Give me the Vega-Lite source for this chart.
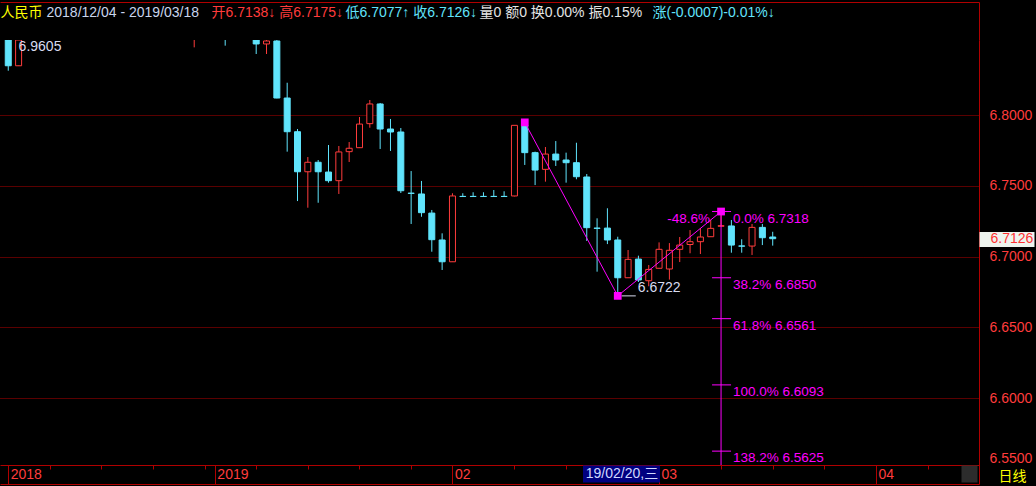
{
  "$schema": "https://vega.github.io/schema/vega-lite/v6.json",
  "width": 979,
  "height": 425,
  "autosize": {"type": "none"},
  "padding": {"left": 0, "top": 40, "right": 57, "bottom": 21},
  "background": "#000000",
  "config": {
    "view": {"stroke": null},
    "font": "Liberation Sans, Noto Sans CJK SC",
    "axis": {"labelFont": "Liberation Sans, Noto Sans CJK SC", "titleFont": "Liberation Sans, Noto Sans CJK SC", "titleFontWeight": "normal", "labelFlush": false, "grid": false}
  },
  "datasets": {
    "k": [
      {"d": "2018-12-04", "i": 0, "o": 6.8600, "h": 6.8650, "l": 6.8313, "c": 6.8348},
      {"d": "2018-12-05", "i": 1, "o": 6.8348, "h": 6.9605, "l": 6.8348, "c": 6.8620},
      {"d": "2018-12-28", "i": 18, "o": 6.8560, "h": 6.8650, "l": 6.8478, "c": 6.8600},
      {"d": "2019-01-02", "i": 21, "o": 6.8650, "h": 6.8700, "l": 6.8490, "c": 6.8560},
      {"d": "2019-01-07", "i": 24, "o": 6.8580, "h": 6.8620, "l": 6.8431, "c": 6.8502},
      {"d": "2019-01-08", "i": 25, "o": 6.8502, "h": 6.8560, "l": 6.8431, "c": 6.8523},
      {"d": "2019-01-09", "i": 26, "o": 6.8523, "h": 6.8550, "l": 6.8118, "c": 6.8120},
      {"d": "2019-01-10", "i": 27, "o": 6.8120, "h": 6.8228, "l": 6.7741, "c": 6.7882},
      {"d": "2019-01-11", "i": 28, "o": 6.7882, "h": 6.7901, "l": 6.7392, "c": 6.7599},
      {"d": "2019-01-14", "i": 29, "o": 6.7599, "h": 6.7703, "l": 6.7345, "c": 6.7666},
      {"d": "2019-01-15", "i": 30, "o": 6.7666, "h": 6.7682, "l": 6.7380, "c": 6.7599},
      {"d": "2019-01-16", "i": 31, "o": 6.7597, "h": 6.7788, "l": 6.7522, "c": 6.7536},
      {"d": "2019-01-17", "i": 32, "o": 6.7536, "h": 6.7781, "l": 6.7442, "c": 6.7739},
      {"d": "2019-01-18", "i": 33, "o": 6.7741, "h": 6.7809, "l": 6.7668, "c": 6.7765},
      {"d": "2019-01-21", "i": 34, "o": 6.7769, "h": 6.7986, "l": 6.7769, "c": 6.7936},
      {"d": "2019-01-22", "i": 35, "o": 6.7939, "h": 6.8106, "l": 6.7910, "c": 6.8078},
      {"d": "2019-01-23", "i": 36, "o": 6.8078, "h": 6.8085, "l": 6.7760, "c": 6.7901},
      {"d": "2019-01-24", "i": 37, "o": 6.7901, "h": 6.7972, "l": 6.7746, "c": 6.7880},
      {"d": "2019-01-25", "i": 38, "o": 6.7880, "h": 6.7908, "l": 6.7449, "c": 6.7465},
      {"d": "2019-01-28", "i": 39, "o": 6.7448, "h": 6.7604, "l": 6.7230, "c": 6.7446},
      {"d": "2019-01-29", "i": 40, "o": 6.7442, "h": 6.7534, "l": 6.7281, "c": 6.7310},
      {"d": "2019-01-30", "i": 41, "o": 6.7307, "h": 6.7329, "l": 6.7034, "c": 6.7119},
      {"d": "2019-01-31", "i": 42, "o": 6.7117, "h": 6.7164, "l": 6.6905, "c": 6.6963},
      {"d": "2019-02-01", "i": 43, "o": 6.6963, "h": 6.7447, "l": 6.6963, "c": 6.7428},
      {"d": "2019-02-04", "i": 44, "o": 6.7425, "h": 6.7447, "l": 6.7424, "c": 6.7424},
      {"d": "2019-02-05", "i": 45, "o": 6.7425, "h": 6.7454, "l": 6.7424, "c": 6.7424},
      {"d": "2019-02-06", "i": 46, "o": 6.7425, "h": 6.7454, "l": 6.7424, "c": 6.7424},
      {"d": "2019-02-07", "i": 47, "o": 6.7425, "h": 6.7470, "l": 6.7424, "c": 6.7424},
      {"d": "2019-02-08", "i": 48, "o": 6.7425, "h": 6.7461, "l": 6.7424, "c": 6.7424},
      {"d": "2019-02-11", "i": 49, "o": 6.7428, "h": 6.7927, "l": 6.7425, "c": 6.7927},
      {"d": "2019-02-12", "i": 50, "o": 6.7927, "h": 6.7948, "l": 6.7647, "c": 6.7734},
      {"d": "2019-02-13", "i": 51, "o": 6.7734, "h": 6.7741, "l": 6.7505, "c": 6.7611},
      {"d": "2019-02-14", "i": 52, "o": 6.7616, "h": 6.7774, "l": 6.7529, "c": 6.7724},
      {"d": "2019-02-15", "i": 53, "o": 6.7724, "h": 6.7816, "l": 6.7640, "c": 6.7682},
      {"d": "2019-02-18", "i": 54, "o": 6.7682, "h": 6.7734, "l": 6.7522, "c": 6.7663},
      {"d": "2019-02-19", "i": 55, "o": 6.7663, "h": 6.7804, "l": 6.7546, "c": 6.7564},
      {"d": "2019-02-20", "i": 56, "o": 6.7562, "h": 6.7583, "l": 6.7110, "c": 6.7204},
      {"d": "2019-02-21", "i": 57, "o": 6.7201, "h": 6.7270, "l": 6.6893, "c": 6.7199},
      {"d": "2019-02-22", "i": 58, "o": 6.7201, "h": 6.7341, "l": 6.7088, "c": 6.7117},
      {"d": "2019-02-25", "i": 59, "o": 6.7117, "h": 6.7140, "l": 6.6722, "c": 6.6850},
      {"d": "2019-02-26", "i": 60, "o": 6.6850, "h": 6.7046, "l": 6.6850, "c": 6.6980},
      {"d": "2019-02-27", "i": 61, "o": 6.6982, "h": 6.7006, "l": 6.6820, "c": 6.6834},
      {"d": "2019-02-28", "i": 62, "o": 6.6829, "h": 6.6940, "l": 6.6790, "c": 6.6909},
      {"d": "2019-03-01", "i": 63, "o": 6.6917, "h": 6.7100, "l": 6.6917, "c": 6.7051},
      {"d": "2019-03-04", "i": 64, "o": 6.6912, "h": 6.7095, "l": 6.6837, "c": 6.7044},
      {"d": "2019-03-05", "i": 65, "o": 6.7051, "h": 6.7138, "l": 6.6961, "c": 6.7081},
      {"d": "2019-03-06", "i": 66, "o": 6.7085, "h": 6.7187, "l": 6.7023, "c": 6.7105},
      {"d": "2019-03-07", "i": 67, "o": 6.7105, "h": 6.7201, "l": 6.7018, "c": 6.7138},
      {"d": "2019-03-08", "i": 68, "o": 6.7140, "h": 6.7258, "l": 6.7140, "c": 6.7199},
      {"d": "2019-03-11", "i": 69, "o": 6.7214, "h": 6.7318, "l": 6.7214, "c": 6.7218},
      {"d": "2019-03-12", "i": 70, "o": 6.7216, "h": 6.7258, "l": 6.7027, "c": 6.7081},
      {"d": "2019-03-13", "i": 71, "o": 6.7075, "h": 6.7122, "l": 6.7027, "c": 6.7073},
      {"d": "2019-03-14", "i": 72, "o": 6.7074, "h": 6.7230, "l": 6.7011, "c": 6.7206},
      {"d": "2019-03-15", "i": 73, "o": 6.7206, "h": 6.7230, "l": 6.7081, "c": 6.7133},
      {"d": "2019-03-18", "i": 74, "o": 6.7138, "h": 6.7175, "l": 6.7077, "c": 6.7126}
    ],
    "fib": [
      {"lab": "0.0% 6.7318", "p": 6.7318, "i": 69},
      {"lab": "38.2% 6.6850", "p": 6.6850, "i": 69},
      {"lab": "61.8% 6.6561", "p": 6.6561, "i": 69},
      {"lab": "100.0% 6.6093", "p": 6.6093, "i": 69},
      {"lab": "138.2% 6.5625", "p": 6.5625, "i": 69}
    ],
    "fibpts": [
      {"n": 1, "i": 50, "p": 6.7948, "r": ""},
      {"n": 2, "i": 59, "p": 6.6722, "r": ""},
      {"n": 3, "i": 69, "p": 6.7318, "r": "-48.6%"}
    ]
  },
  "layer": [
    {
      "data": {"name": "k"},
      "mark": {"type": "rule", "strokeWidth": 1},
      "encoding": {
        "x": {"field": "i", "type": "quantitative", "scale": {"domain": [-0.8, 93.97], "nice": false, "zero": false, "padding": 0},
          "axis": {"orient": "bottom", "values": [4, 9, 14, 19, 24, 29, 34, 39, 49, 54, 59, 69, 74, 79, 89], "labels": false, "ticks": true, "tickSize": 4, "tickColor": "#b00000", "domain": true, "domainColor": "#b00000", "grid": false,
            "title": "日线", "titleColor": "#ffff00", "titleFontSize": 14, "titleX": 1012, "titleY": 11, "titleAlign": "center", "titleBaseline": "middle", "titleAngle": 0}},
        "y": {"field": "l", "type": "quantitative", "scale": {"domain": [6.5527, 6.853], "nice": false, "zero": false, "clamp": true, "padding": 0},
          "axis": {"orient": "right", "values": [6.55, 6.6, 6.65, 6.7, 6.75, 6.8], "format": ".4f", "labelColor": "#ff3c3c", "labelFontSize": 14, "labelPadding": 10, "ticks": false, "domain": true, "domainColor": "#b00000",
            "grid": true, "gridColor": "#b40000", "gridDash": [1, 1], "gridOpacity": {"condition": {"test": "datum.value < 6.56", "value": 0}, "value": 1},
            "labelFlush": 5, "labelFlushOffset": 0, "title": null}},
        "y2": {"field": "h"},
        "color": {"condition": {"test": "datum.c > datum.o", "value": "#ff3c3c"}, "value": "#60e4fc"}
      }
    },
    {
      "data": {"name": "k"},
      "transform": [{"filter": "datum.c <= datum.o && min(datum.o, datum.c) < 6.853"}],
      "mark": {"type": "bar", "width": 6, "fill": "#60e4fc", "stroke": "#60e4fc", "strokeWidth": 1, "clip": true},
      "encoding": {
        "x": {"field": "i", "type": "quantitative", "scale": {"domain": [-0.8, 93.97], "nice": false, "zero": false, "padding": 0},
          "axis": {"orient": "bottom", "values": [0, 20, 43, 63, 84],
            "labelExpr": "datum.value == 0 ? '2018' : datum.value == 20 ? '2019' : datum.value == 43 ? '02' : datum.value == 63 ? '03' : '04'",
            "labelColor": "#ff3c3c", "labelFontSize": 14, "labelAlign": "left", "labelBaseline": "middle", "labelOffset": 2, "labelPadding": -10,
            "ticks": true, "tickSize": 19, "tickColor": "#b00000", "domain": false, "grid": false, "title": null, "labelOverlap": false}},
        "y": {"field": "o", "type": "quantitative", "scale": {"domain": [6.5527, 6.853], "nice": false, "zero": false, "clamp": true, "padding": 0},
          "axis": {"orient": "right", "values": [6.7126], "format": ".4f", "labelColor": "#ff3232", "labelFontSize": 14, "ticks": true, "tickSize": 55, "tickWidth": 15, "tickColor": "#eef4ee", "labelPadding": -44, "domain": false, "grid": false, "title": null}},
        "y2": {"field": "c"}
      }
    },
    {
      "data": {"name": "k"},
      "transform": [{"filter": "datum.c > datum.o && min(datum.o, datum.c) < 6.853"}],
      "mark": {"type": "bar", "width": 6, "fill": "#000000", "stroke": "#ff3c3c", "strokeWidth": 1, "clip": true},
      "encoding": {
        "x": {"field": "i", "type": "quantitative", "scale": {"domain": [-0.8, 93.97], "nice": false, "zero": false, "padding": 0},
          "axis": {"orient": "bottom", "offset": 19, "values": [93.97], "labels": false, "ticks": true, "tickSize": -20, "tickColor": "#b00000", "domain": true, "domainColor": "#b00000", "grid": false, "title": null}},
        "y": {"field": "o", "type": "quantitative", "scale": {"domain": [6.5527, 6.853], "nice": false, "zero": false, "clamp": true, "padding": 0}, "axis": null},
        "y2": {"field": "c"}
      }
    },
    {
      "data": {"name": "fibpts"},
      "mark": {"type": "line", "color": "#ff00ff", "strokeWidth": 1},
      "encoding": {
        "x": {"field": "i", "type": "quantitative", "scale": {"domain": [-0.8, 93.97], "nice": false, "zero": false, "padding": 0},
          "axis": {"orient": "bottom", "values": [56, 89.64], "labelExpr": "datum.value == 56 ? '19/02/20,三' : ''", "labelColor": "#d0d8ff", "labelFontSize": 14, "labelAlign": "center", "labelBaseline": "middle", "labelPadding": -9,
            "ticks": true, "tickSize": 17, "tickWidth": {"condition": {"test": "datum.value > 80", "value": 16}, "value": 77},
            "tickColor": {"condition": {"test": "datum.value > 80", "value": "#2c2c2c"}, "value": "#000080"}, "tickOffset": 34.7, "domain": false, "grid": false, "title": null}},
        "y": {"field": "p", "type": "quantitative", "scale": {"domain": [6.5527, 6.853], "nice": false, "zero": false, "clamp": true, "padding": 0}, "axis": null},
        "order": {"field": "n"}
      }
    },
    {
      "data": {"name": "fibpts"},
      "transform": [{"filter": "datum.n == 3"}],
      "mark": {"type": "rule", "color": "#ff00ff", "strokeWidth": 1},
      "encoding": {
        "x": {"field": "i", "type": "quantitative", "scale": {"domain": [-0.8, 93.97], "nice": false, "zero": false, "padding": 0},
          "axis": {"orient": "top", "offset": 38, "values": [93.97], "labels": false, "ticks": true, "tickSize": -38, "tickColor": "#b00000", "domain": true, "domainColor": "#b00000", "grid": false,
            "title": "人民币", "titleColor": "#ffff00", "titleFontSize": 14, "titleX": 0, "titleY": 10, "titleAlign": "left", "titleBaseline": "middle", "titleAngle": 0}},
        "y": {"field": "p", "type": "quantitative", "scale": {"domain": [6.5527, 6.853], "nice": false, "zero": false, "clamp": true, "padding": 0}, "axis": null},
        "y2": {"datum": 6.55}
      }
    },
    {
      "data": {"name": "fib"},
      "mark": {"type": "rule", "color": "#ff00ff", "strokeWidth": 1, "xOffset": -9, "x2Offset": 10},
      "encoding": {
        "x": {"field": "i", "type": "quantitative", "scale": {"domain": [-0.8, 93.97], "nice": false, "zero": false, "padding": 0},
          "axis": {"orient": "top", "offset": 38, "labels": false, "ticks": false, "domain": false, "grid": false,
            "title": "2018/12/04 - 2019/03/18", "titleColor": "#c8d4ec", "titleFontSize": 14, "titleX": 46, "titleY": 10, "titleAlign": "left", "titleBaseline": "middle", "titleAngle": 0}},
        "x2": {"field": "i"},
        "y": {"field": "p", "type": "quantitative", "scale": {"domain": [6.5527, 6.853], "nice": false, "zero": false, "clamp": true, "padding": 0}, "axis": null}
      }
    },
    {
      "data": {"name": "fib"},
      "mark": {"type": "text", "align": "left", "baseline": "top", "dx": 12, "fontSize": 13.5, "fill": "#ff00ff"},
      "encoding": {
        "x": {"field": "i", "type": "quantitative", "scale": {"domain": [-0.8, 93.97], "nice": false, "zero": false, "padding": 0},
          "axis": {"orient": "top", "offset": 38, "labels": false, "ticks": false, "domain": false, "grid": false,
            "title": "开6.7138↓ 高6.7175↓", "titleColor": "#ff3c3c", "titleFontSize": 14, "titleX": 211, "titleY": 10, "titleAlign": "left", "titleBaseline": "middle", "titleAngle": 0}},
        "y": {"field": "p", "type": "quantitative", "scale": {"domain": [6.5527, 6.853], "nice": false, "zero": false, "clamp": true, "padding": 0}, "axis": null},
        "text": {"field": "lab"}
      }
    },
    {
      "data": {"name": "fibpts"},
      "mark": {"type": "point", "shape": "square", "size": 60, "filled": true, "color": "#ff00ff", "opacity": 1},
      "encoding": {
        "x": {"field": "i", "type": "quantitative", "scale": {"domain": [-0.8, 93.97], "nice": false, "zero": false, "padding": 0},
          "axis": {"orient": "top", "offset": 38, "labels": false, "ticks": false, "domain": false, "grid": false,
            "title": "低6.7077↑ 收6.7126↓", "titleColor": "#60e4fc", "titleFontSize": 14, "titleX": 345, "titleY": 10, "titleAlign": "left", "titleBaseline": "middle", "titleAngle": 0}},
        "y": {"field": "p", "type": "quantitative", "scale": {"domain": [6.5527, 6.853], "nice": false, "zero": false, "clamp": true, "padding": 0}, "axis": null}
      }
    },
    {
      "data": {"name": "fibpts"},
      "transform": [{"filter": "datum.r != ''"}],
      "mark": {"type": "text", "align": "right", "baseline": "top", "dx": -11, "fontSize": 13.5, "fill": "#ff00ff"},
      "encoding": {
        "x": {"field": "i", "type": "quantitative", "scale": {"domain": [-0.8, 93.97], "nice": false, "zero": false, "padding": 0},
          "axis": {"orient": "top", "offset": 38, "labels": false, "ticks": false, "domain": false, "grid": false,
            "title": "量0 额0 换0.00% 振0.15%", "titleColor": "#e4e4e4", "titleFontSize": 14, "titleX": 479, "titleY": 10, "titleAlign": "left", "titleBaseline": "middle", "titleAngle": 0}},
        "y": {"field": "p", "type": "quantitative", "scale": {"domain": [6.5527, 6.853], "nice": false, "zero": false, "clamp": true, "padding": 0}, "axis": null},
        "text": {"field": "r"}
      }
    },
    {
      "data": {"name": "k"},
      "transform": [{"joinaggregate": [{"op": "min", "field": "l", "as": "ml"}]}, {"filter": "datum.l == datum.ml"}],
      "mark": {"type": "rule", "color": "#d8dcf0", "strokeWidth": 1, "xOffset": 4, "x2Offset": 18},
      "encoding": {
        "x": {"field": "i", "type": "quantitative", "scale": {"domain": [-0.8, 93.97], "nice": false, "zero": false, "padding": 0},
          "axis": {"orient": "top", "offset": 38, "labels": false, "ticks": false, "domain": false, "grid": false,
            "title": "涨(-0.0007)-0.01%↓", "titleColor": "#60e4fc", "titleFontSize": 14, "titleX": 652, "titleY": 10, "titleAlign": "left", "titleBaseline": "middle", "titleAngle": 0}},
        "x2": {"field": "i"},
        "y": {"field": "l", "type": "quantitative", "scale": {"domain": [6.5527, 6.853], "nice": false, "zero": false, "clamp": true, "padding": 0}, "axis": null}
      }
    },
    {
      "data": {"name": "k"},
      "transform": [{"joinaggregate": [{"op": "min", "field": "l", "as": "ml"}]}, {"filter": "datum.l == datum.ml"}],
      "mark": {"type": "text", "align": "left", "baseline": "middle", "dx": 20, "dy": -8, "fontSize": 14, "fill": "#d8dcf0"},
      "encoding": {
        "x": {"field": "i", "type": "quantitative", "scale": {"domain": [-0.8, 93.97], "nice": false, "zero": false, "padding": 0}, "axis": null},
        "y": {"field": "l", "type": "quantitative", "scale": {"domain": [6.5527, 6.853], "nice": false, "zero": false, "clamp": true, "padding": 0}, "axis": null},
        "text": {"field": "l", "type": "quantitative", "format": ".4f"}
      }
    },
    {
      "data": {"name": "k"},
      "transform": [{"joinaggregate": [{"op": "max", "field": "h", "as": "mh"}]}, {"filter": "datum.h == datum.mh"}],
      "mark": {"type": "text", "align": "left", "baseline": "top", "dx": 0, "fontSize": 14, "fill": "#d8dcf0"},
      "encoding": {
        "x": {"field": "i", "type": "quantitative", "scale": {"domain": [-0.8, 93.97], "nice": false, "zero": false, "padding": 0}, "axis": null},
        "y": {"field": "h", "type": "quantitative", "scale": {"domain": [6.5527, 6.853], "nice": false, "zero": false, "clamp": true, "padding": 0}, "axis": null},
        "text": {"field": "h", "type": "quantitative", "format": ".4f"}
      }
    }
  ],
  "resolve": {"axis": {"x": "independent", "y": "independent"}}
}
